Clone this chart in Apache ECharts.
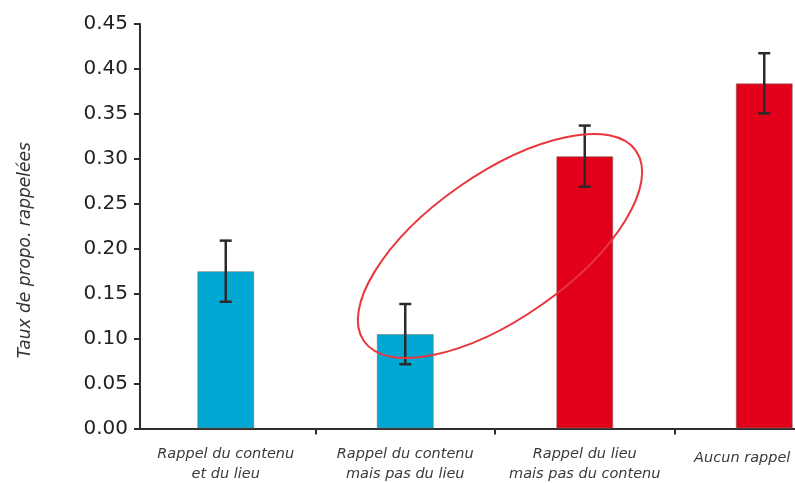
<!DOCTYPE html>
<html><head><meta charset="utf-8">
<script src="https://cdn.jsdelivr.net/npm/echarts@6/dist/echarts.min.js"></script>
<style>html,body{margin:0;padding:0;background:#fff;overflow:hidden}#c{width:795px;height:483px}</style>
</head><body><div id="c"></div>
<script>
// ---- data ----
const categories = ['Rappel du contenu\net du lieu', 'Rappel du contenu\nmais pas du lieu', 'Rappel du lieu\nmais pas du contenu', 'Aucun rappel'];
const means = [0.175, 0.105, 0.303, 0.384];
const errors = [0.034, 0.0335, 0.034, 0.0335];
const yMin = 0, yMax = 0.45, yStep = 0.05;
const yTitle = 'Taux de propo. rappelées';
// annotation: ellipse around categories 1 and 2 at this level
const highlightPair = [1, 2];
const highlightLevel = 0.203;

// ---- styles ----
const barColors = ['#00A8D3', '#00A8D3', '#E2001A', '#E2001A'];
const axisColor = '#2e2e2e';

const chart = echarts.init(document.getElementById('c'), null, {renderer: 'canvas'});

function renderErr(params, api) {
  const x = api.value(0);
  const lo = api.coord([x, api.value(1)]);
  const hi = api.coord([x, api.value(2)]);
  const hw = 6;
  const st = {stroke: '#2a2a2a', lineWidth: 2.5};
  return {type: 'group', children: [
    {type: 'line', shape: {x1: lo[0], y1: lo[1], x2: hi[0], y2: hi[1]}, style: st},
    {type: 'line', shape: {x1: hi[0] - hw, y1: hi[1], x2: hi[0] + hw, y2: hi[1]}, style: st},
    {type: 'line', shape: {x1: lo[0] - hw, y1: lo[1], x2: lo[0] + hw, y2: lo[1]}, style: st}
  ]};
}

chart.setOption({
  animation: false,
  backgroundColor: '#ffffff',
  grid: {left: 136, width: 718, top: 24, height: 404.5, outerBoundsMode: 'none', containLabel: false},
  xAxis: {
    type: 'category',
    data: categories,
    boundaryGap: true,
    axisLine: {lineStyle: {color: axisColor, width: 2}},
    axisTick: {show: true, alignWithLabel: false, length: 6, interval: (i) => i !== 0, lineStyle: {color: axisColor, width: 2}},
    axisLabel: {
      interval: 0,
      margin: 16,
      color: '#3a3a3a',
      fontFamily: 'DejaVu Sans',
      fontStyle: 'italic',
      fontSize: 14.5,
      lineHeight: 20,
      hideOverlap: false,
      formatter: function (v, i) {
        return i === categories.length - 1 ? '{last|' + v + '}' : v;
      },
      rich: {
        last: {fontFamily: 'DejaVu Sans', fontStyle: 'italic', fontSize: 14.5, lineHeight: 20, color: '#3a3a3a', padding: [8, 44, 0, 0]}
      }
    }
  },
  yAxis: {
    type: 'value',
    min: yMin, max: yMax, interval: yStep,
    offset: -4,
    name: yTitle,
    nameLocation: 'middle',
    nameRotate: 90,
    nameGap: 106,
    nameTextStyle: {fontFamily: 'DejaVu Sans', fontStyle: 'italic', fontSize: 17, color: '#333', padding: [0, 48, 0, 0]},
    splitLine: {show: false},
    axisLine: {show: true, lineStyle: {color: axisColor, width: 2}},
    axisTick: {show: true, length: 6, lineStyle: {color: axisColor, width: 2}},
    axisLabel: {
      margin: 12,
      color: '#222',
      fontFamily: 'DejaVu Sans',
      fontSize: 20,
      formatter: v => v.toFixed(2)
    }
  },
  series: [
    {
      type: 'bar',
      data: means,
      barWidth: 57,
      itemStyle: {
        color: p => barColors[p.dataIndex],
        borderColor: 'rgba(120,110,100,0.55)',
        borderWidth: 1
      },
      z: 2
    },
    {
      type: 'custom',
      renderItem: renderErr,
      encode: {x: 0, y: [1, 2]},
      data: means.map((m, i) => [i, m - errors[i], m + errors[i]]),
      z: 5
    }
  ]
});

const pa = chart.convertToPixel({xAxisIndex: 0, yAxisIndex: 0}, [highlightPair[0], highlightLevel]);
const pb = chart.convertToPixel({xAxisIndex: 0, yAxisIndex: 0}, [highlightPair[1], highlightLevel]);
chart.setOption({
  graphic: [{
    type: 'ellipse',
    x: (pa[0] + pb[0]) / 2 + 5,
    y: (pa[1] + pb[1]) / 2,
    rotation: 35 * Math.PI / 180,
    shape: {cx: 0, cy: 0, rx: 166, ry: 72},
    style: {fill: 'none', stroke: '#E8363C', lineWidth: 2},
    z: 10
  }]
});
</script>
</body></html>
